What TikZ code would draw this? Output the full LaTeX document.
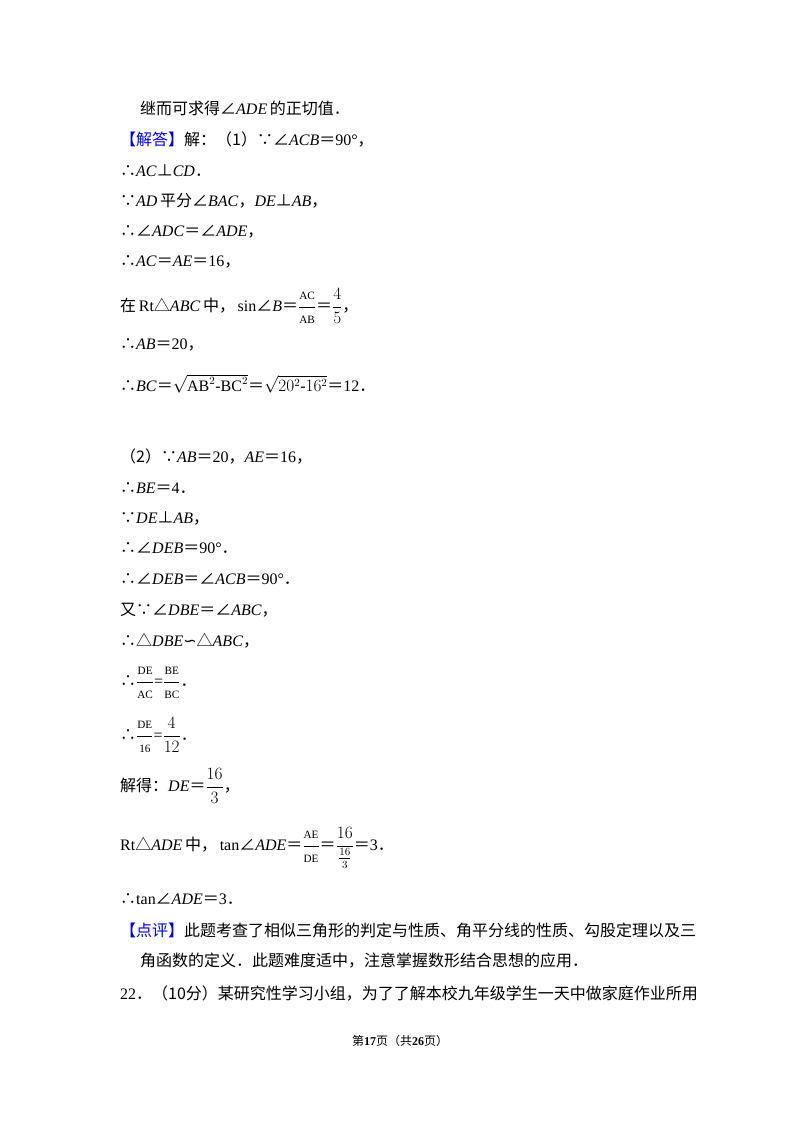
\documentclass[tikz,border=0pt]{standalone}
\usepackage{fontspec}
\setmainfont{Liberation Serif}
\newfontfamily\cjk{Noto Sans CJK SC}
\newfontfamily\dv{DejaVu Sans}
\newcommand{\C}[1]{{\cjk #1}}
\newcommand{\I}[1]{\textit{#1}}
\newcommand{\ang}{{\cjk ∠}}
\newcommand{\tri}{{\cjk △}}
\newcommand{\sfr}[2]{$\displaystyle\frac{\mathrm{\scriptstyle #1}}{\mathrm{\scriptstyle #2}}$}
\newcommand{\nfr}[2]{$\displaystyle\frac{#1}{#2}$}
\begin{document}
\begin{tikzpicture}[x=1pt,y=-1pt,every node/.style={anchor=west,inner sep=0pt,font=\fontsize{16}{18}\selectfont},
 ln/.style={}]
\useasboundingbox (0,0) rectangle (800,1132);
\fill[white] (0,0) rectangle (800,1132);
\node[ln] (l1) at (140,108) {\C{继而可求得}\ang\I{ADE}\,\C{的正切值．}};
\node[ln] (l2) at (120,140) {\textcolor{blue}{\C{【解答】}}\C{解：（1）∵}\ang\I{ACB}\C{＝}90°\C{，}};
\node[ln] (l3) at (120,171) {\C{∴}\I{AC}\C{⊥}\I{CD}\C{．}};
\node[ln] (l4) at (120,201) {\C{∵}\I{AD}\,\C{平分}\ang\I{BAC}\C{，}\I{DE}\C{⊥}\I{AB}\C{，}};
\node[ln] (l5) at (120,232) {\C{∴}\ang\I{ADC}\C{＝}\ang\I{ADE}\C{，}};
\node[ln] (l6) at (120,262) {\C{∴}\I{AC}\C{＝}\I{AE}\C{＝}16\C{，}};
\node[ln] (l7) at (120,306) {\C{在}\,Rt\tri\I{ABC}\,\C{中，}\,sin\ang\I{B}\C{＝}\sfr{AC}{AB}\C{＝}\nfr{4}{5}\C{，}};
\node[ln] (l8) at (120,345) {\C{∴}\I{AB}\C{＝}20\C{，}};
\node[ln] (l9) at (120,384) {\C{∴}\I{BC}\C{＝}$\sqrt{\mathrm{AB}^2\mbox{-}\mathrm{BC}^2}$\C{＝}$\sqrt{20^2\mbox{-}16^2}$\C{＝}12\C{．}};
\node[ln] (l10) at (120,457) {\C{（2）∵}\I{AB}\C{＝}20\C{，}\I{AE}\C{＝}16\C{，}};
\node[ln] (l11) at (120,488) {\C{∴}\I{BE}\C{＝}4\C{．}};
\node[ln] (l12) at (120,518) {\C{∵}\I{DE}\C{⊥}\I{AB}\C{，}};
\node[ln] (l13) at (120,548) {\C{∴}\ang\I{DEB}\C{＝}90°\C{．}};
\node[ln] (l14) at (120,579) {\C{∴}\ang\I{DEB}\C{＝}\ang\I{ACB}\C{＝}90°\C{．}};
\node[ln] (l15) at (120,610) {\C{又∵}\ang\I{DBE}\C{＝}\ang\I{ABC}\C{，}};
\node[ln] (l16) at (120,641) {\C{∴}\tri\I{DBE}{\dv ∽}\tri\I{ABC}\C{，}};
\node[ln] (l17) at (120,683) {\C{∴}\sfr{DE}{AC}=\sfr{BE}{BC}\C{．}};
\node[ln] (l18) at (120,735) {\C{∴}\sfr{DE}{16}=\nfr{4}{12}\C{．}};
\node[ln] (l19) at (120,786) {\C{解得：}\I{DE}\C{＝}\nfr{16}{3}\C{，}};
\node[ln] (l20) at (120,848) {Rt\tri\I{ADE}\,\C{中，}\,tan\ang\I{ADE}\C{＝}\sfr{AE}{DE}\C{＝}$\displaystyle\frac{16}{\frac{16}{3}}$\C{＝}3\C{．}};
\node[ln] (l21) at (120,899) {\C{∴}tan\ang\I{ADE}\C{＝}3\C{．}};
\node[ln] (l22) at (120,930) {\textcolor{blue}{\C{【点评】}}\C{此题考查了相似三角形的判定与性质、角平分线的性质、勾股定理以及三}};
\node[ln] (l23) at (140,961) {\C{角函数的定义．此题难度适中，注意掌握数形结合思想的应用．}};
\node[ln] (l24) at (120,993) {22\C{．（10分）某研究性学习小组，为了了解本校九年级学生一天中做家庭作业所用}};
\node[anchor=center,font=\fontsize{12}{14}\selectfont] (ft) at (400,1041) {\C{第}\textbf{17}\C{页（共}\textbf{26}\C{页）}};
\end{tikzpicture}
\end{document}
